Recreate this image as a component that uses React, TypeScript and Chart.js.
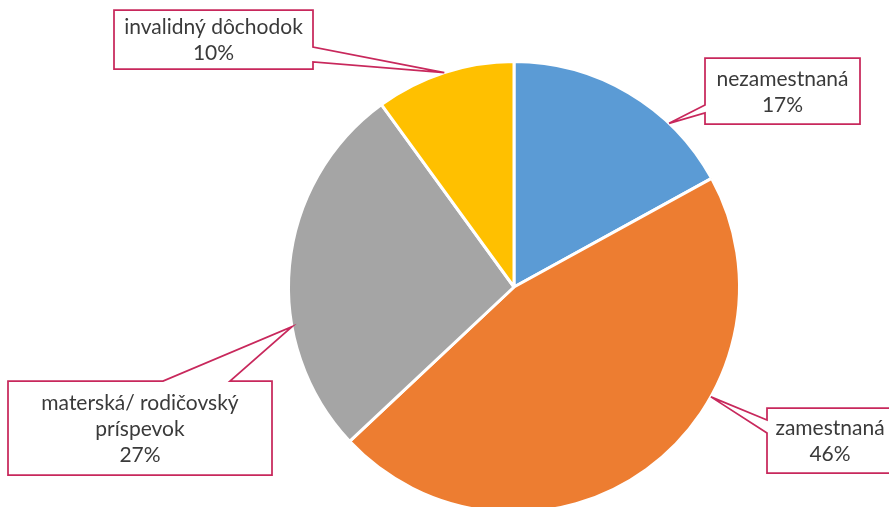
import React, { useEffect, useRef } from "react";
import { Chart, registerables } from "chart.js";

Chart.register(...registerables);

const categories = ["nezamestnaná", "zamestnaná", "materská/ rodičovský príspevok", "invalidný dôchodok"];
const labelLines = [["nezamestnaná"], ["zamestnaná"], ["materská/ rodičovský", "príspevok"], ["invalidný dôchodok"]];
const values = [17, 46, 27, 10];
const colors = ["#5B9BD5", "#ED7D31", "#A5A5A5", "#FFC000"];

// callout layout: box [x0,y0,x1,y1], side of pointer, pointer base, tip position within slice (0..1)
const callouts = [
  { box: [705, 58, 860, 124], side: "left", base: [105, 113], t: 0.71 },
  { box: [767, 408, 893, 473], side: "left", base: [420, 433], t: 0.35 },
  { box: [8, 381, 272, 475], side: "top", base: [163, 230], t: 0.34 },
  { box: [114, 10, 313, 69], side: "right", base: [47, 62], t: 0.5 },
];

const FONT = '21px Lato, "Open Sans", sans-serif';
const LINE_H = 26;

const calloutPlugin = {
  id: "callouts",
  afterDatasetsDraw(chart: any) {
    const ctx = chart.ctx as CanvasRenderingContext2D;
    const meta = chart.getDatasetMeta(0);
    const total = values.reduce((a, b) => a + b, 0);
    callouts.forEach((c, i) => {
      const arc = meta.data[i] as any;
      const p = arc.getProps(["x", "y", "startAngle", "endAngle", "outerRadius"], true);
      const a = p.startAngle + c.t * (p.endAngle - p.startAngle);
      const tx = p.x + Math.cos(a) * p.outerRadius;
      const ty = p.y + Math.sin(a) * p.outerRadius;
      const [x0, y0, x1, y1] = c.box;
      const [b0, b1] = c.base;
      ctx.save();
      ctx.beginPath();
      if (c.side === "left") {
        ctx.moveTo(x0, y0);
        ctx.lineTo(x1, y0);
        ctx.lineTo(x1, y1);
        ctx.lineTo(x0, y1);
        ctx.lineTo(x0, b1);
        ctx.lineTo(tx, ty);
        ctx.lineTo(x0, b0);
      } else if (c.side === "right") {
        ctx.moveTo(x0, y0);
        ctx.lineTo(x1, y0);
        ctx.lineTo(x1, b0);
        ctx.lineTo(tx, ty);
        ctx.lineTo(x1, b1);
        ctx.lineTo(x1, y1);
        ctx.lineTo(x0, y1);
      } else {
        ctx.moveTo(x0, y0);
        ctx.lineTo(b0, y0);
        ctx.lineTo(tx, ty);
        ctx.lineTo(b1, y0);
        ctx.lineTo(x1, y0);
        ctx.lineTo(x1, y1);
        ctx.lineTo(x0, y1);
      }
      ctx.closePath();
      ctx.fillStyle = "#FFFFFF";
      ctx.fill();
      ctx.lineWidth = 1.75;
      ctx.strokeStyle = "#C8285C";
      ctx.lineJoin = "miter";
      ctx.stroke();

      const pct = Math.round((values[i] / total) * 100) + "%";
      const lines = [...labelLines[i], pct];
      ctx.fillStyle = "#3A3A3A";
      ctx.font = FONT;
      ctx.textAlign = "center";
      ctx.textBaseline = "middle";
      const cx = (x0 + x1) / 2;
      const cy = (y0 + y1) / 2;
      const startY = cy - ((lines.length - 1) * LINE_H) / 2;
      lines.forEach((ln, k) => ctx.fillText(ln, cx, startY + k * LINE_H + 1));
      ctx.restore();
    });
  },
};

export default function App() {
  const ref = useRef<HTMLCanvasElement>(null);
  useEffect(() => {
    if (!ref.current) return;
    const chart = new Chart(ref.current, {
      type: "pie",
      data: {
        labels: categories,
        datasets: [
          {
            data: values,
            backgroundColor: colors,
            borderColor: "#FFFFFF",
            borderWidth: 3,
          },
        ],
      },
      options: {
        responsive: false,
        animation: false,
        layout: { padding: { left: 287, right: 148, top: 60, bottom: 16 } },
        plugins: {
          legend: { display: false },
          tooltip: { enabled: false },
        },
      },
      plugins: [calloutPlugin],
    });
    return () => chart.destroy();
  }, []);
  return (
    <div style={{ position: "absolute", left: 0, top: 0, width: 889, height: 507, overflow: "hidden", background: "#fff" }}>
      <canvas ref={ref} width={889} height={530} style={{ display: "block" }} />
    </div>
  );
}
